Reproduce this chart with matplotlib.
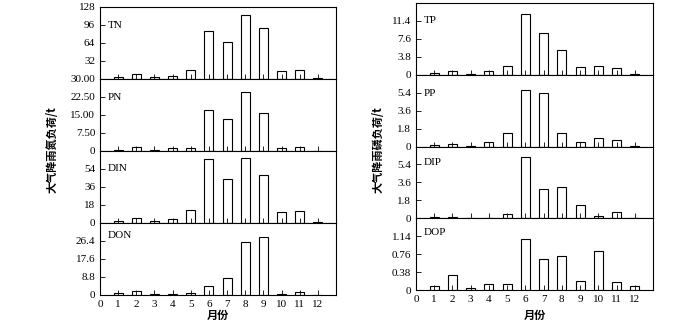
import numpy as np
import matplotlib
matplotlib.use('Agg')
import matplotlib.pyplot as plt

plt.rcParams['font.family'] = ['Liberation Serif', 'Noto Sans CJK SC']
plt.rcParams['font.size'] = 8

months = np.arange(1, 13)

# 氮 (t)
tn = [4.1, 8.9, 3.0, 5.3, 15.4, 84.7, 65.2, 113.8, 91.3, 13.6, 16.0, 1.5]
pn = [0.4, 1.8, 0.3, 1.25, 1.1, 17.1, 13.2, 24.6, 15.7, 1.4, 1.8, 0.15]
din = [2.3, 5.0, 1.7, 3.7, 13.3, 64.3, 44.0, 65.0, 47.7, 11.3, 12.3, 1.3]
don = [1.0, 1.8, 0.5, 0.5, 1.0, 4.6, 8.5, 25.9, 28.5, 0.6, 1.6, 0.2]

# 磷 (t)
tp = [0.4, 0.8, 0.2, 0.7, 1.9, 12.9, 8.9, 5.2, 1.65, 1.9, 1.45, 0.2]
pp = [0.13, 0.26, 0.07, 0.43, 1.37, 5.63, 5.33, 1.31, 0.43, 0.82, 0.65, 0.03]
dip = [0.1, 0.16, 0.06, 0.06, 0.45, 6.1, 2.93, 3.15, 1.29, 0.22, 0.58, 0.06]
dop = [0.083, 0.31, 0.041, 0.117, 0.117, 1.085, 0.663, 0.72, 0.2, 0.83, 0.166, 0.083]

left_panels = [
    ('TN', tn, 128, [32, 64, 96, 128], ['32', '64', '96', '128'], 0.75),
    ('PN', pn, 30, [0, 7.5, 15, 22.5, 30], ['0', '7.50', '15.00', '22.50', '30.00'], 0.75),
    ('DIN', din, 72, [0, 18, 36, 54], ['0', '18', '36', '54'], 0.75),
    ('DON', don, 35.2, [0, 8.8, 17.6, 26.4], ['0', '8.8', '17.6', '26.4'], 0.83),
]
right_panels = [
    ('TP', tp, 15.2, [0, 3.8, 7.6, 11.4], ['0', '3.8', '7.6', '11.4'], 0.75),
    ('PP', pp, 7.2, [0, 1.8, 3.6, 5.4], ['0', '1.8', '3.6', '5.4'], 0.74),
    ('DIP', dip, 7.2, [0, 1.8, 3.6, 5.4], ['0', '1.8', '3.6', '5.4'], 0.78),
    ('DOP', dop, 1.52, [0, 0.38, 0.76, 1.14], ['0', '0.38', '0.76', '1.14'], 0.8),
]

W, H = 700, 325
fig = plt.figure(figsize=(7, 3.25), dpi=100)


def draw_column(panels, x0, x1, y_top, y_bot):
    ph = (y_bot - y_top) / len(panels)
    axes = []
    for i, (name, vals, ymax, ticks, labels, ly) in enumerate(panels):
        top = y_top + i * ph
        ax = fig.add_axes([x0 / W, 1 - (top + ph) / H, (x1 - x0) / W, ph / H])
        ax.bar(months, vals, width=0.5, color='white', edgecolor='black', linewidth=0.8)
        ax.set_xlim(0, 13)
        ax.set_ylim(0, ymax)
        ax.set_yticks(ticks)
        ax.set_yticklabels(labels)
        ax.set_xticks(np.arange(0, 13))
        ax.tick_params(axis='both', direction='in', length=3.5, width=0.6, pad=3.5)
        ax.tick_params(axis='x', labelbottom=(i == len(panels) - 1))
        for s in ax.spines.values():
            s.set_linewidth(0.8)
        ax.text(0.032, ly, name, transform=ax.transAxes, fontsize=8, va='center', ha='left')
        axes.append(ax)
    return axes


draw_column(left_panels, 100, 336, 7, 295)
draw_column(right_panels, 416, 653, 3, 290)

fig.text(52 / W, 1 - 150 / H, '大气降雨氮负荷/t', rotation=90, ha='center', va='center',
         family='Noto Sans CJK SC', fontsize=8, fontweight='bold')
fig.text(378 / W, 1 - 150 / H, '大气降雨磷负荷/t', rotation=90, ha='center', va='center',
         family='Noto Sans CJK SC', fontsize=8, fontweight='bold')
fig.text(218 / W, 1 - 315 / H, '月份', ha='center', va='center',
         family='Noto Sans CJK SC', fontsize=8, fontweight='bold')
fig.text(535 / W, 1 - 315 / H, '月份', ha='center', va='center',
         family='Noto Sans CJK SC', fontsize=8, fontweight='bold')

fig.savefig('out.png', dpi=100)
